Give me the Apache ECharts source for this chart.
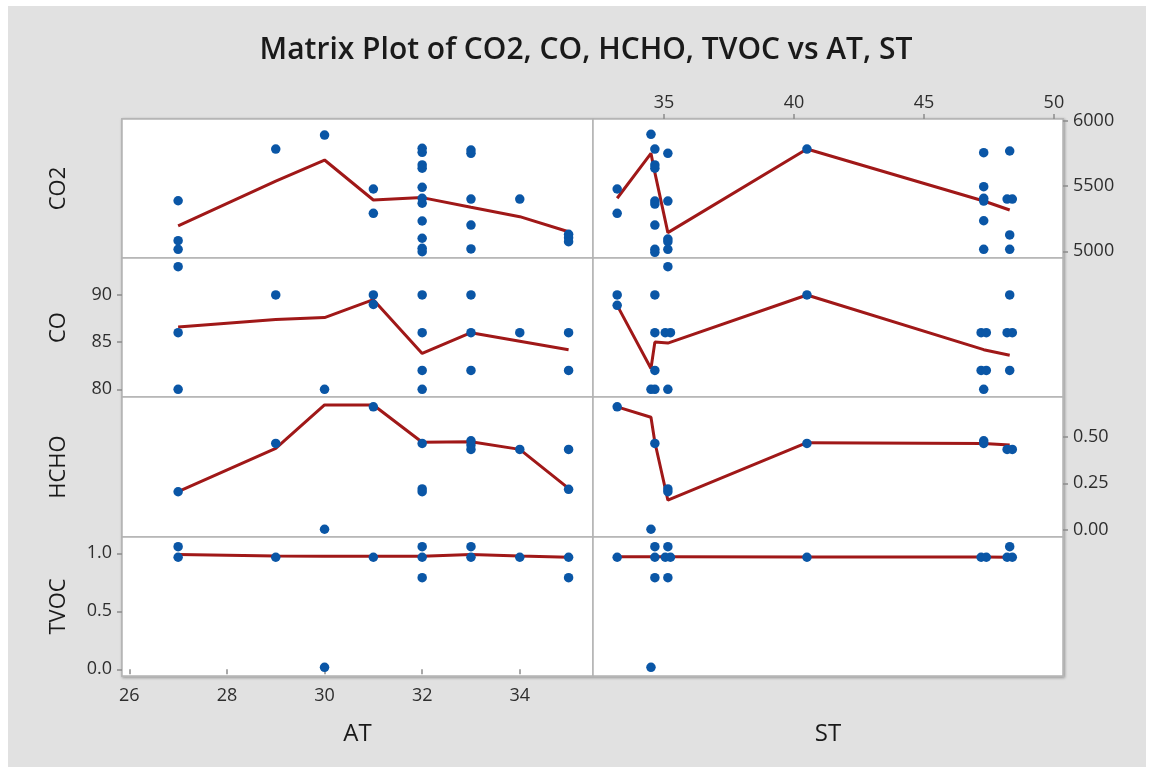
<!DOCTYPE html>
<html>
<head>
<meta charset="utf-8">
<title>Matrix Plot</title>
<script src="https://cdn.jsdelivr.net/npm/echarts@6/dist/echarts.min.js"></script>
<style>
  html, body { margin: 0; padding: 0; background: #ffffff; }
  #chart { width: 1150px; height: 772px; }
</style>
</head>
<body>
<div id="chart"></div>
<script>
// Tick labels for each variable
const AT_TICKS = [26, 28, 30, 32, 34];
const ST_TICKS = [35, 40, 45, 50];
const CO2_TICKS = [5000, 5500, 6000];
const CO_TICKS = [80, 85, 90];
const HCHO_TICKS = [0, 0.25, 0.5];
const TVOC_TICKS = [0, 0.5, 1.0];

// Observations against AT
const CO2_AT = [
  [27, 5387], [27, 5081], [27, 5015],
  [29, 5783],
  [30, 5890],
  [31, 5477], [31, 5291],
  [32, 5789], [32, 5758], [32, 5661], [32, 5636], [32, 5490], [32, 5406], [32, 5368], [32, 5232], [32, 5100], [32, 5023], [32, 4997],
  [33, 5775], [33, 5750], [33, 5400], [33, 5201], [33, 5018],
  [34, 5400],
  [35, 5130], [35, 5104], [35, 5074]
];
const CO_AT = [
  [27, 93], [27, 86], [27, 80],
  [29, 90],
  [30, 80],
  [31, 90], [31, 89],
  [32, 90], [32, 86], [32, 82], [32, 80],
  [33, 90], [33, 86], [33, 82],
  [34, 86],
  [35, 86], [35, 82]
];
const HCHO_AT = [
  [27, 0.205], [29, 0.464], [30, 0.004], [31, 0.66],
  [32, 0.464], [32, 0.22], [32, 0.205],
  [33, 0.478], [33, 0.455], [33, 0.432],
  [34, 0.432],
  [35, 0.432], [35, 0.218]
];
const TVOC_AT = [
  [27, 1.057], [27, 0.966], [29, 0.966], [30, 0.017], [31, 0.966],
  [32, 1.057], [32, 0.966], [32, 0.79],
  [33, 1.057], [33, 0.966], [34, 0.966], [35, 0.966], [35, 0.79]
];

// Smoothed curves against AT
const CO2_AT_FIT = [[27, 5194], [29, 5538], [30, 5699], [31, 5393], [32, 5411], [33, 5337], [34, 5265], [35, 5150]];
const CO_AT_FIT = [[27, 86.6], [29, 87.4], [30, 87.6], [31, 89.5], [32, 83.8], [33, 86.0], [34, 85.1], [35, 84.2]];
const HCHO_AT_FIT = [[27, 0.205], [29, 0.437], [30, 0.67], [31, 0.67], [32, 0.47], [33, 0.473], [34, 0.432], [35, 0.223]];
const TVOC_AT_FIT = [[27, 0.99], [29, 0.977], [30, 0.975], [31, 0.975], [32, 0.975], [33, 0.99], [34, 0.977], [35, 0.966]];

// Observations against ST
const CO2_ST = [
  [33.2, 5477], [33.2, 5291],
  [34.5, 5896],
  [34.65, 5783], [34.65, 5661], [34.65, 5636], [34.65, 5385], [34.65, 5362], [34.65, 5201], [34.65, 5015], [34.65, 4992],
  [35.15, 5750], [35.15, 5385], [35.15, 5094], [35.15, 5074], [35.15, 5015],
  [40.5, 5783],
  [47.3, 5755], [47.3, 5495], [47.3, 5406], [47.3, 5385], [47.3, 5234], [47.3, 5015],
  [48.3, 5768], [48.2, 5400], [48.4, 5400], [48.3, 5125], [48.3, 5015]
];
const CO_ST = [
  [33.2, 90], [33.2, 88.9],
  [34.65, 90], [34.65, 86], [34.65, 82], [34.5, 80], [34.65, 80],
  [35.05, 86], [35.25, 86], [35.15, 80], [35.15, 93],
  [40.5, 90],
  [47.2, 86], [47.4, 86], [47.2, 82], [47.4, 82], [47.3, 80],
  [48.3, 90], [48.2, 86], [48.4, 86], [48.3, 82]
];
const HCHO_ST = [
  [33.2, 0.66], [34.5, 0.004], [34.65, 0.464], [35.15, 0.22], [35.15, 0.205],
  [40.5, 0.464], [47.3, 0.478], [47.3, 0.464], [48.2, 0.432], [48.4, 0.432]
];
const TVOC_ST = [
  [33.2, 0.966], [34.5, 0.017],
  [34.65, 1.057], [34.65, 0.966], [34.65, 0.79],
  [35.15, 1.057], [35.05, 0.966], [35.25, 0.966], [35.15, 0.79],
  [40.5, 0.966], [47.2, 0.966], [47.4, 0.966], [48.3, 1.057], [48.2, 0.966], [48.4, 0.966]
];

// Smoothed curves against ST
const CO2_ST_FIT = [[33.2, 5406], [34.5, 5750], [34.65, 5602], [35.15, 5143], [40.5, 5783], [47.3, 5385], [48.3, 5316]];
const CO_ST_FIT = [[33.2, 88.9], [34.5, 82.2], [34.65, 85.0], [35.15, 84.9], [40.5, 90], [47.3, 84.2], [48.3, 83.6]];
const HCHO_ST_FIT = [[33.2, 0.66], [34.5, 0.604], [34.65, 0.47], [35.15, 0.16], [40.5, 0.468], [47.3, 0.464], [48.3, 0.455]];
const TVOC_ST_FIT = [[33.2, 0.97], [34.5, 0.97], [34.65, 0.97], [35.15, 0.97], [40.5, 0.968], [47.3, 0.968], [48.3, 0.967]];

// Layout of the panel matrix
const FONT = '"Open Sans", "Noto Sans", sans-serif';
const COLS = [{ left: 122, width: 471 }, { left: 593, width: 470 }];
const ROWS = [{ top: 119, height: 139 }, { top: 258, height: 139 }, { top: 397, height: 140 }, { top: 537, height: 139 }];
const X_RANGE = [{ min: 25.85, max: 35.5 }, { min: 32.27, max: 50.35 }];
const Y_RANGE = [
  { min: 4948.7, max: 6013 },
  { min: 79.18, max: 93.92 },
  { min: -0.0375, max: 0.7127 },
  { min: -0.0578, max: 1.1405 }
];
const Y_NAMES = ['CO2', 'CO', 'HCHO', 'TVOC'];
const Y_TICKS = [CO2_TICKS, CO_TICKS, HCHO_TICKS, TVOC_TICKS];
const Y_FORMAT = [v => String(v), v => String(v), v => v.toFixed(2), v => v.toFixed(1)];

const POINTS = [
  [CO2_AT, CO2_ST], [CO_AT, CO_ST], [HCHO_AT, HCHO_ST], [TVOC_AT, TVOC_ST]
];
const FITS = [
  [CO2_AT_FIT, CO2_ST_FIT], [CO_AT_FIT, CO_ST_FIT], [HCHO_AT_FIT, HCHO_ST_FIT], [TVOC_AT_FIT, TVOC_ST_FIT]
];

const DOT = '#0a56a6';
const CURVE = '#a01818';
const FRAME = '#b3b3b3';
const TICK_COLOR = '#8c8c8c';
const LABEL_COLOR = '#2e2e2e';

const grids = [], xAxes = [], yAxes = [], series = [];

ROWS.forEach((r, ri) => {
  COLS.forEach((c, ci) => {
    const idx = grids.length;
    grids.push({
      left: c.left, top: r.top, width: c.width, height: r.height,
      show: true, backgroundColor: '#ffffff', borderColor: FRAME, borderWidth: 1.5,
      containLabel: false
    });

    // x axis: AT labels along the bottom of the left column, ST labels along the top of the right column
    const xShowLabels = (ci === 0 && ri === 3) || (ci === 1 && ri === 0);
    const xTicks = ci === 0 ? AT_TICKS : ST_TICKS;
    const xa = {
      type: 'value', gridIndex: idx,
      min: X_RANGE[ci].min, max: X_RANGE[ci].max,
      position: ci === 1 && ri === 0 ? 'top' : 'bottom',
      axisLine: { show: false },
      splitLine: { show: false },
      axisTick: { show: xShowLabels, length: 5, customValues: xTicks, lineStyle: { color: TICK_COLOR, width: 1.5 } },
      axisLabel: {
        show: xShowLabels, customValues: xTicks, margin: ri === 0 ? 7 : 11,
        color: LABEL_COLOR, fontSize: 18, fontFamily: FONT
      }
    };
    if (ri === 3) {
      xa.name = ci === 0 ? 'AT' : 'ST';
      xa.nameLocation = 'middle';
      xa.nameGap = 46;
      xa.nameTextStyle = { color: '#1a1a1a', fontSize: 24, fontFamily: FONT };
    }
    xAxes.push(xa);

    // y axis: labels alternate sides row by row
    const yOnRight = ri === 0 || ri === 2;
    const yShowLabels = yOnRight ? ci === 1 : ci === 0;
    const ya = {
      type: 'value', gridIndex: idx,
      min: Y_RANGE[ri].min, max: Y_RANGE[ri].max,
      position: ci === 1 ? 'right' : 'left',
      axisLine: { show: false },
      splitLine: { show: false },
      axisTick: { show: yShowLabels, length: 5, customValues: Y_TICKS[ri], lineStyle: { color: TICK_COLOR, width: 1.5 } },
      axisLabel: {
        show: yShowLabels, customValues: Y_TICKS[ri], margin: 10,
        color: LABEL_COLOR, fontSize: 18, fontFamily: FONT,
        formatter: Y_FORMAT[ri]
      }
    };
    if (ci === 0) {
      ya.name = Y_NAMES[ri];
      ya.nameLocation = 'middle';
      ya.nameGap = 52;
      ya.nameRotate = 90;
      ya.nameTextStyle = { color: '#1a1a1a', fontSize: 22, fontFamily: FONT };
    }
    yAxes.push(ya);

    series.push({
      type: 'line', xAxisIndex: idx, yAxisIndex: idx,
      data: FITS[ri][ci], showSymbol: false, silent: true,
      lineStyle: { color: CURVE, width: 3 }, z: 2
    });
    series.push({
      type: 'scatter', xAxisIndex: idx, yAxisIndex: idx,
      data: POINTS[ri][ci], symbolSize: 9.5,
      itemStyle: { color: DOT, opacity: 1 }, z: 3
    });
  });
});

const chart = echarts.init(document.getElementById('chart'), null, { renderer: 'canvas' });
chart.setOption({
  animation: false,
  backgroundColor: '#ffffff',
  title: {
    text: 'Matrix Plot of CO2, CO, HCHO, TVOC vs AT, ST',
    left: 581, top: 30, textAlign: 'center',
    textStyle: { color: '#1a1a1a', fontSize: 30, fontWeight: 600, fontFamily: FONT }
  },
  graphic: [
    {
      type: 'rect', z: -10, silent: true,
      shape: { x: 8, y: 6, width: 1138, height: 761 },
      style: { fill: '#e1e1e1' }
    },
    {
      type: 'rect', z: -5, silent: true,
      shape: { x: 122, y: 119, width: 941, height: 557 },
      style: { fill: '#ffffff', stroke: '#bdbdbd', lineWidth: 2, shadowBlur: 3, shadowOffsetX: 1, shadowOffsetY: 1, shadowColor: 'rgba(0,0,0,0.25)' }
    }
  ],
  grid: grids,
  xAxis: xAxes,
  yAxis: yAxes,
  series: series
});
</script>
</body>
</html>
